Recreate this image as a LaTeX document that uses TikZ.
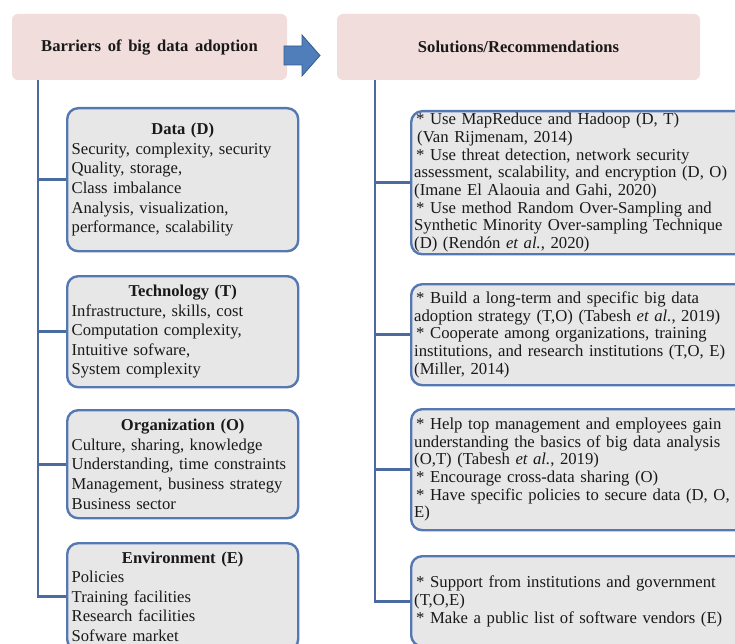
\documentclass[tikz,border=0pt]{standalone}
\usepackage{fontspec}
\setmainfont{Liberation Serif}[WordSpace=1.6]
\definecolor{headpink}{RGB}{240,221,220}
\definecolor{boxgray}{RGB}{231,231,231}
\definecolor{edgeblue}{RGB}{86,120,178}
\definecolor{linkblue}{RGB}{74,106,160}
\definecolor{arrowblue}{RGB}{79,126,186}
\definecolor{arrowedge}{RGB}{56,90,140}
\definecolor{inkgray}{RGB}{25,25,25}
\newcommand{\boxtitle}[1]{\makebox[\linewidth]{\bfseries #1}}
\tikzset{
	head/.style={fill=headpink, rounded corners=6pt, minimum height=66pt, text=inkgray, font=\fontsize{16.6}{19}\selectfont\bfseries},
	barrier/.style={anchor=north west, draw=edgeblue, fill=boxgray, line width=2.4pt, rounded corners=11pt, text width=222pt, inner xsep=4.5pt, inner ysep=2pt, align=left, text=inkgray, font=\fontsize{16.6}{19.6}\selectfont},
	solution/.style={anchor=north west, draw=edgeblue, fill=boxgray, line width=2.4pt, rounded corners=11pt, text width=345pt, inner xsep=3pt, inner ysep=2pt, align=left, text=inkgray, font=\fontsize{16.7}{17.7}\selectfont},
	link/.style={draw=linkblue, line width=2.6pt}
}
\begin{document}
\begin{tikzpicture}[x=1pt, y=-1pt]
		\useasboundingbox (0,0) rectangle (735,644);
		\clip (0,0) rectangle (735,644);
		
		\node[head, minimum width=275pt] (hbar) at (149.5,47) {Barriers of big data adoption};
		\node[head, minimum width=363pt] (hsol) at (518.5,47) {Solutions/Recommendations};
		\draw[arrowedge, fill=arrowblue, line width=0.8pt] (284,46)--(302,46)--(302,35)--(320,55.5)--(302,76)--(302,65)--(284,65)--cycle;
		
		\node[barrier, minimum height=143pt] (dat) at (66,107) {\boxtitle{Data (D)}\\
			Security, complexity, security\\
			Quality, storage,\\
			Class imbalance\\
			Analysis, visualization,\\
			performance, scalability};
		\node[barrier, minimum height=111pt] (tec) at (66,275) {\boxtitle{Technology (T)}\\
			Infrastructure, skills, cost\\
			Computation complexity,\\
			Intuitive sofware,\\
			System complexity};
		\node[barrier, minimum height=108pt] (org) at (66,409) {\boxtitle{Organization (O)}\\
			Culture, sharing, knowledge\\
			Understanding, time constraints\\
			Management, business strategy\\
			Business sector};
		\node[barrier, minimum height=107pt] (env) at (66,542) {\boxtitle{Environment (E)}\\
			Policies\\
			Training facilities\\
			Research facilities\\
			Sofware market};
		
		\node[solution, minimum height=140pt] (sol1) at (410,110) {\hspace{2pt}* Use MapReduce and Hadoop (D, T)\\
			\hspace{3pt}(Van Rijmenam, 2014)\\
			\hspace{2pt}* Use threat detection, network security\\
			assessment, scalability, and encryption (D, O)\\
			(Imane El Alaouia and Gahi, 2020)\\
			\hspace{2pt}* Use method Random Over-Sampling and\\
			Synthetic Minority Over-sampling Technique\\
			(D) (Rendón \textit{et al.}, 2020)};
		\node[solution, minimum height=101pt] (sol2) at (410,283) {\hspace{2pt}* Build a long-term and specific big data\\
			adoption strategy (T,O) (Tabesh \textit{et al.}, 2019)\\
			\hspace{2pt}* Cooperate among organizations, training\\
			institutions, and research institutions\ (T,O, E)\\
			(Miller, 2014)};
		\node[solution, minimum height=121pt] (sol3) at (410,408) {\hspace{2pt}* Help top management and employees gain\\
			understanding the basics of big data analysis\\
			(O,T) (Tabesh \textit{et al.}, 2019)\\
			\hspace{2pt}* Encourage cross-data sharing (O)\\
			\hspace{2pt}* Have specific policies to secure data (D, O,\\
			E)};
		\node[solution, minimum height=90pt] (sol4) at (410,555) {\hspace{2pt}* Support from institutions and government\\
			(T,O,E)\\
			\hspace{2pt}* Make a public list of software vendors (E)};
		
		\coordinate (ltrunk) at (38,80);
		\coordinate (rtrunk) at (375,80);
		\draw[link] (ltrunk) |- (env.west);
		\draw[link] (rtrunk) |- (sol4.west);
		\foreach \n in {dat,tec,org}
		{
			\draw[link] (\n.west)--(\n.west -| ltrunk);
		}
		\foreach \n in {sol1,sol2,sol3}
		{
			\draw[link] (\n.west)--(\n.west -| rtrunk);
		}
\end{tikzpicture}
\end{document}
